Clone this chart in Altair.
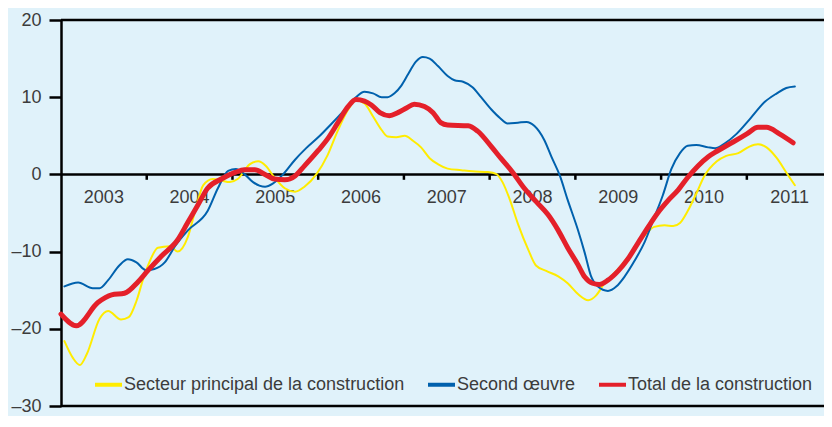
import altair as alt
import pandas as pd

series_names = ["Secteur principal de la construction", "Second œuvre", "Total de la construction"]
series_colors = ["#ffec00", "#0061ad", "#e4202a"]
series_widths = [2, 2, 5]

# Secteur principal de la construction (yellow)
main_t = [2003.04, 2003.14, 2003.22, 2003.30, 2003.45, 2003.55, 2003.70, 2003.79, 2003.88, 2003.96,
          2004.03, 2004.13, 2004.27, 2004.36, 2004.48, 2004.57, 2004.66, 2004.77, 2004.87, 2004.97,
          2005.06, 2005.20, 2005.30, 2005.39, 2005.49, 2005.61, 2005.73, 2005.84, 2005.98,
          2006.11, 2006.23, 2006.35, 2006.44, 2006.54, 2006.64, 2006.74, 2006.81, 2006.91,
          2007.01, 2007.10, 2007.20, 2007.30, 2007.40, 2007.51, 2007.67, 2007.80, 2007.98,
          2008.08, 2008.15, 2008.23, 2008.33, 2008.45, 2008.54, 2008.66, 2008.80, 2008.91,
          2009.03, 2009.15, 2009.24, 2009.34, 2009.50, 2009.65, 2009.81, 2009.92,
          2010.04, 2010.14, 2010.22, 2010.31, 2010.41, 2010.50, 2010.65, 2010.76, 2010.90,
          2011.03, 2011.13, 2011.23, 2011.35, 2011.46, 2011.56]
main_v = [-21.6, -23.8, -24.7, -23.3, -18.7, -17.7, -18.8, -18.5, -16.4, -13.5,
          -11.4, -9.5, -9.3, -10.0, -8.1, -4.5, -1.4, -0.6, -0.8, -1.0,
          -0.6, 1.3, 1.7, 1.1, -0.4, -1.8, -2.25, -1.6, 0.04,
          2.5, 5.7, 8.4, 9.6, 9.2, 7.5, 5.75, 4.9, 4.8,
          5.0, 4.4, 3.5, 2.1, 1.3, 0.75, 0.55, 0.4, 0.3,
          0.04, -1.0, -3.1, -6.4, -9.75, -11.8, -12.5, -13.2, -14.1,
          -15.5, -16.3, -15.7, -14.1, -12.25, -10.2, -7.9, -6.8,
          -6.6, -6.7, -6.3, -4.75, -2.5, -0.3, 1.7, 2.4, 2.75,
          3.6, 3.9, 3.5, 2.1, 0.25, -1.4]

# Second œuvre (blue)
second_t = [2003.04, 2003.20, 2003.37, 2003.45, 2003.55, 2003.68, 2003.78, 2003.88, 2003.99,
            2004.09, 2004.21, 2004.33, 2004.48, 2004.71, 2004.83, 2004.95,
            2005.04, 2005.14, 2005.24, 2005.38, 2005.47, 2005.59, 2005.73, 2005.86,
            2006.00, 2006.15, 2006.31, 2006.44, 2006.54, 2006.64, 2006.74, 2006.81, 2006.89, 2006.97,
            2007.05, 2007.14, 2007.22, 2007.30, 2007.40, 2007.51, 2007.59, 2007.69, 2007.80, 2007.90,
            2008.02, 2008.12, 2008.21, 2008.33, 2008.43, 2008.52, 2008.64, 2008.72, 2008.82, 2008.91,
            2009.03, 2009.11, 2009.18, 2009.26, 2009.38, 2009.48, 2009.57, 2009.69, 2009.81, 2009.92,
            2010.02, 2010.12, 2010.22, 2010.31, 2010.41, 2010.55, 2010.63, 2010.74, 2010.88,
            2011.03, 2011.21, 2011.35, 2011.46, 2011.56]
second_v = [-14.5, -14.0, -14.75, -14.75, -13.7, -11.8, -11.0, -11.4, -12.4,
            -12.25, -11.4, -9.3, -7.25, -4.75, -1.8, 0.45,
            0.7, 0.04, -1.0, -1.6, -1.2, 0.0, 1.9, 3.4,
            4.8, 6.5, 8.4, 10.0, 10.7, 10.5, 10.0, 10.0, 10.5, 11.5,
            13.0, 14.6, 15.2, 15.0, 14.0, 12.75, 12.2, 12.0, 11.3, 10.0,
            8.4, 7.3, 6.6, 6.7, 6.8, 6.3, 4.4, 2.3, -0.2, -3.3,
            -7.2, -10.2, -13.1, -14.5, -15.1, -14.5, -13.3, -11.2, -8.7, -5.6,
            -2.7, 0.7, 2.75, 3.7, 3.8, 3.5, 3.4, 4.0, 5.25,
            7.1, 9.4, 10.5, 11.2, 11.4]

# Total de la construction (red)
total_t = [2003.00, 2003.18, 2003.43, 2003.59, 2003.74, 2003.90,
           2004.01, 2004.17, 2004.36, 2004.48, 2004.60, 2004.71, 2004.87,
           2005.03, 2005.14, 2005.26, 2005.38, 2005.49, 2005.61, 2005.73, 2005.84,
           2006.00, 2006.11, 2006.23, 2006.35, 2006.44, 2006.54, 2006.62, 2006.72, 2006.83, 2006.93,
           2007.03, 2007.12, 2007.24, 2007.34, 2007.43, 2007.51, 2007.75, 2007.86,
           2008.02, 2008.13, 2008.27, 2008.39, 2008.54, 2008.68, 2008.80, 2008.91,
           2009.03, 2009.11, 2009.20, 2009.28, 2009.38, 2009.50, 2009.61, 2009.73, 2009.85, 2009.96,
           2010.08, 2010.20, 2010.31, 2010.43, 2010.55, 2010.65, 2010.84,
           2011.00, 2011.13, 2011.23, 2011.38, 2011.54]
total_v = [-18.1, -19.6, -16.6, -15.6, -15.4, -13.9,
           -12.5, -10.6, -8.5, -6.2, -3.9, -1.8, -0.6,
           0.25, 0.6, 0.6, 0.0, -0.6, -0.7, -0.2, 1.1,
           3.1, 4.6, 6.7, 8.8, 9.7, 9.5, 9.0, 8.0, 7.6, 8.0,
           8.6, 9.1, 8.8, 8.0, 6.7, 6.4, 6.3, 5.6,
           3.6, 2.1, 0.25, -1.6, -3.5, -5.2, -7.25, -9.5,
           -11.7, -13.3, -14.1, -14.25, -13.7, -12.5, -11.0, -8.9, -6.8, -5.0,
           -3.4, -2.0, -0.4, 1.1, 2.3, 3.0, 4.2,
           5.25, 6.1, 6.1, 5.25, 4.1]

years = [2003, 2004, 2005, 2006, 2007, 2008, 2009, 2010, 2011]
year_bounds = [2004, 2005, 2006, 2007, 2008, 2009, 2010, 2011]
y_ticks = [-30, -20, -10, 0, 10, 20]
frame_values = [20, 0, -30]

FONT = "Liberation Sans"
TEXT_COLOR = "#3c3c3c"
BG = "#e0f2fa"

frames = []
for name, ts, vs in zip(series_names, [main_t, second_t, total_t], [main_v, second_v, total_v]):
    frames.append(pd.DataFrame({"t": ts, "v": vs, "series": name}))
df = pd.concat(frames, ignore_index=True)

x_scale = alt.Scale(domain=[2003, 2011.9], nice=False, zero=False)
y_scale = alt.Scale(domain=[-30, 20], nice=False, zero=False)

y_axis = alt.Axis(
    values=y_ticks, title=None, grid=False,
    domain=True, domainColor="black", domainWidth=2.5,
    ticks=True, tickColor="black", tickWidth=2.5, tickSize=12,
    labelFontSize=18, labelColor=TEXT_COLOR, labelFont=FONT, labelPadding=8,
    labelExpr="datum.value < 0 ? '–' + abs(datum.value) : datum.label",
)

color_enc = alt.Color(
    "series:N",
    scale=alt.Scale(domain=series_names, range=series_colors),
    legend=alt.Legend(
        orient="none", legendX=32, legendY=349, direction="horizontal", title=None,
        symbolType="stroke", symbolSize=729, symbolStrokeWidth=4,
        labelFontSize=18, labelColor=TEXT_COLOR, labelFont=FONT, labelLimit=0,
        columnPadding=15, labelOffset=0, padding=0,
    ),
)

frame_df = pd.DataFrame({"v": frame_values})
frame = alt.Chart(frame_df).mark_rule(color="black", strokeWidth=2.5).encode(
    y=alt.Y("v:Q", scale=y_scale, axis=y_axis)
)

tick_df = pd.DataFrame({"t": year_bounds})
ticks = alt.Chart(tick_df).mark_rule(color="black", strokeWidth=2.5).encode(
    x=alt.X("t:Q", scale=x_scale, axis=None),
    y=alt.datum(0),
    y2=alt.datum(-0.7),
)

label_df = pd.DataFrame({"year": years})
labels = alt.Chart(label_df).transform_calculate(
    t="datum.year + 0.5", label="'' + datum.year"
).mark_text(fontSize=18, font=FONT, color=TEXT_COLOR, dy=24, baseline="middle").encode(
    x=alt.X("t:Q", scale=x_scale, axis=None),
    y=alt.datum(0),
    text="label:N",
)

layers = [frame, ticks, labels]
for name, w in zip(series_names, series_widths):
    layers.append(
        alt.Chart(df).transform_filter(alt.datum.series == name)
        .mark_line(strokeWidth=w, interpolate="monotone", strokeJoin="round", strokeCap="round")
        .encode(
            x=alt.X("t:Q", scale=x_scale, axis=None),
            y=alt.Y("v:Q", scale=y_scale, axis=y_axis),
            color=color_enc,
        )
    )

chart = alt.layer(*layers).properties(
    width=763, height=386,
    autosize=alt.AutoSizeParams(type="none"),
    padding={"left": 53, "top": 12, "right": 0, "bottom": 10},
).configure(
    background=BG, font=FONT
).configure_view(stroke=None, fill=BG)

chart.save("out.html", embed_options={"renderer": "svg", "actions": False})
